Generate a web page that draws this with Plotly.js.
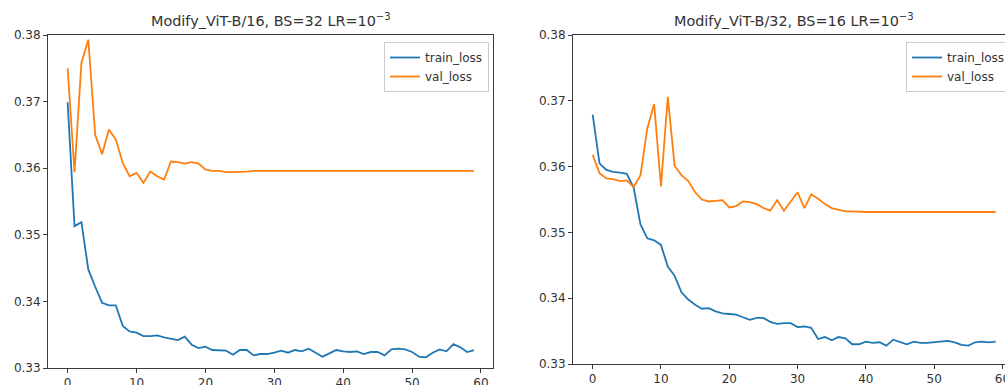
<!DOCTYPE html>
<html><head><meta charset="utf-8">
<script src="https://cdn.plot.ly/plotly-3.0.1.min.js"></script>
<style>html,body{margin:0;padding:0;background:#fff}#chart{width:1005px;height:385px}</style>
</head><body><div id="chart"></div>
<script>
const epochs = [0,1,2,3,4,5,6,7,8,9,10,11,12,13,14,15,16,17,18,19,20,21,22,23,24,25,26,27,28,29,
  30,31,32,33,34,35,36,37,38,39,40,41,42,43,44,45,46,47,48,49,50,51,52,53,54,55,56,57,58,59];

const leftTrain = [0.3699,0.3513,0.3519,0.3448,0.3422,0.3398,0.3394,0.3394,0.3363,0.3355,
  0.3353,0.3348,0.3348,0.3349,0.3346,0.3344,0.3342,0.3347,0.3335,0.3330,
  0.3332,0.3327,0.3327,0.3326,0.3320,0.3327,0.3327,0.3319,0.3321,0.3321,
  0.3323,0.3326,0.3323,0.3327,0.3325,0.3329,0.3323,0.3317,0.3322,0.3327,
  0.3325,0.3324,0.3325,0.3321,0.3324,0.3324,0.3319,0.3328,0.3329,0.3328,
  0.3324,0.3317,0.3316,0.3323,0.3328,0.3325,0.3336,0.3331,0.3324,0.3327];

const leftVal = [0.3750,0.3594,0.3758,0.3793,0.3650,0.3621,0.3658,0.3643,0.3608,0.3588,
  0.3593,0.3578,0.3595,0.3588,0.3583,0.3610,0.3609,0.3607,0.3609,0.3607,
  0.3598,0.3596,0.3596,0.3594,0.3594,0.3594,0.3595,0.3596,0.3596,0.3596,
  0.3596,0.3596,0.3596,0.3596,0.3596,0.3596,0.3596,0.3596,0.3596,0.3596,
  0.3596,0.3596,0.3596,0.3596,0.3596,0.3596,0.3596,0.3596,0.3596,0.3596,
  0.3596,0.3596,0.3596,0.3596,0.3596,0.3596,0.3596,0.3596,0.3596,0.3596];

const rightTrain = [0.3679,0.3605,0.3595,0.3592,0.3591,0.3589,0.3568,0.3512,0.3491,0.3488,
  0.3481,0.3448,0.3434,0.3409,0.3398,0.3390,0.3384,0.3385,0.3380,0.3377,
  0.3376,0.3375,0.3371,0.3367,0.3370,0.3370,0.3364,0.3361,0.3362,0.3362,
  0.3356,0.3357,0.3355,0.3338,0.3341,0.3336,0.3341,0.3339,0.3330,0.3330,
  0.3334,0.3332,0.3333,0.3328,0.3337,0.3333,0.3330,0.3334,0.3332,0.3332,
  0.3333,0.3334,0.3335,0.3333,0.3329,0.3328,0.3333,0.3334,0.3333,0.3334];

const rightVal = [0.3618,0.3590,0.3582,0.3581,0.3578,0.3579,0.3569,0.3587,0.3658,0.3695,
  0.3570,0.3706,0.3601,0.3587,0.3578,0.3561,0.3550,0.3547,0.3548,0.3549,
  0.3538,0.3540,0.3547,0.3546,0.3543,0.3537,0.3533,0.3549,0.3533,0.3547,
  0.3561,0.3537,0.3558,0.3551,0.3543,0.3537,0.3534,0.3532,0.3532,0.3531,
  0.3531,0.3531,0.3531,0.3531,0.3531,0.3531,0.3531,0.3531,0.3531,0.3531,
  0.3531,0.3531,0.3531,0.3531,0.3531,0.3531,0.3531,0.3531,0.3531,0.3531];

const seriesNames = ['train_loss', 'val_loss'];
const titles = ['Modify_ViT-B/16, BS=32 LR=10<sup>\u22123</sup>', 'Modify_ViT-B/32, BS=16 LR=10<sup>\u22123</sup>'];

const BLUE = '#1f77b4', ORANGE = '#ff7f0e';
const FONT = 'DejaVu Sans, sans-serif';
const LW = 1.8;

const traces = [
  {x: epochs, y: leftTrain, name: seriesNames[0], mode: 'lines', line: {color: BLUE, width: LW}, xaxis: 'x', yaxis: 'y', legend: 'legend'},
  {x: epochs, y: leftVal, name: seriesNames[1], mode: 'lines', line: {color: ORANGE, width: LW}, xaxis: 'x', yaxis: 'y', legend: 'legend'},
  {x: epochs, y: rightTrain, name: seriesNames[0], mode: 'lines', line: {color: BLUE, width: LW}, xaxis: 'x2', yaxis: 'y2', legend: 'legend2'},
  {x: epochs, y: rightVal, name: seriesNames[1], mode: 'lines', line: {color: ORANGE, width: LW}, xaxis: 'x2', yaxis: 'y2', legend: 'legend2'}
];

function axisBase(extra) {
  return Object.assign({
    showline: true, linecolor: '#3a3a3a', linewidth: 1, mirror: true,
    ticks: 'outside', ticklen: 4, tickwidth: 1, tickcolor: '#3a3a3a',
    tickfont: {family: FONT, size: 12, color: '#333'},
    showgrid: false, zeroline: false, fixedrange: true, ticklabeloverflow: 'allow'
  }, extra);
}

const legendStyle = {
  bgcolor: 'rgba(255,255,255,0.85)', bordercolor: '#cccccc', borderwidth: 1,
  font: {family: FONT, size: 12, color: '#333'}, itemwidth: 30, tracegroupgap: 0,
  xanchor: 'left', yanchor: 'top'
};

const layout = {
  width: 1005, height: 385,
  margin: {l: 0, r: 0, t: 0, b: 0, autoexpand: false},
  paper_bgcolor: '#fff', plot_bgcolor: '#fff',
  showlegend: true,
  xaxis: axisBase({domain: [48/1005, 493/1005], range: [-2.85, 61.75], tick0: 0, dtick: 10, anchor: 'y'}),
  yaxis: axisBase({domain: [1 - 368/385, 1 - 35/385], range: [0.33, 0.38], tick0: 0.33, dtick: 0.01, tickformat: '.2f', anchor: 'x'}),
  xaxis2: axisBase({domain: [573/1005, 1], range: [-2.88, 60.37], tick0: 0, dtick: 10, anchor: 'y2'}),
  yaxis2: axisBase({domain: [1 - 364/385, 1 - 35/385], range: [0.33, 0.38], tick0: 0.33, dtick: 0.01, tickformat: '.2f', anchor: 'x2', mirror: false}),
  legend: Object.assign({}, legendStyle, {x: 384/1005, y: 1 - 42/385}),
  legend2: Object.assign({}, legendStyle, {x: 906/1005, y: 1 - 42/385}),
  annotations: [
    {text: titles[0], xref: 'paper', yref: 'paper', x: 270.5/1005, y: 1 - 20/385, xanchor: 'center', yanchor: 'middle', showarrow: false, font: {family: FONT, size: 14.4, color: '#333'}},
    {text: titles[1], xref: 'paper', yref: 'paper', x: 794/1005, y: 1 - 20/385, xanchor: 'center', yanchor: 'middle', showarrow: false, font: {family: FONT, size: 14.4, color: '#333'}}
  ]
};

Plotly.newPlot('chart', traces, layout, {displayModeBar: false, staticPlot: true});
</script>
</body></html>
